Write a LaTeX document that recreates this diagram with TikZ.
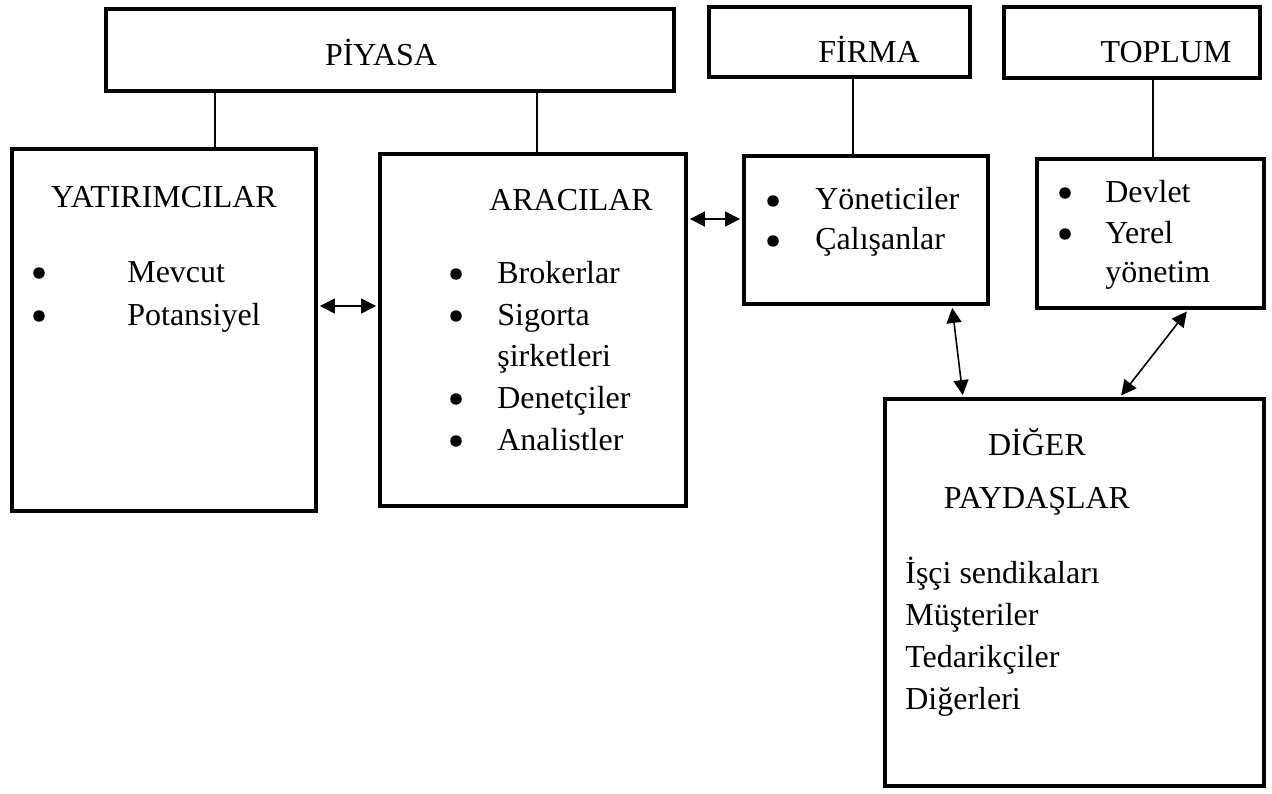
\documentclass[tikz,border=0pt]{standalone}
\usepackage{fontspec}
\setmainfont{Liberation Serif}
\newfontfamily\tnr{Liberation Serif}
\usetikzlibrary{fit, arrows.meta}

\tikzset{
	box/.style={draw, line width=2.3pt, inner sep=0pt},
	lbl/.style={inner sep=0pt, anchor=base, font=\tnr\fontsize{18.2}{21}\selectfont},
	item/.style={lbl, anchor=base west},
	dot/.style={circle, fill, inner sep=0pt, minimum size=0.23cm},
	link/.style={line width=1pt},
	biarrow/.style={line width=0.9pt, {Triangle[length=3mm,width=3mm]}-{Triangle[length=3mm,width=3mm]}, shorten <=1.1pt, shorten >=1.1pt},
}

\begin{document}
\begin{tikzpicture}[x=0.02cm, y=-0.02cm]
		\useasboundingbox (0,0) rectangle (1272,794);
		
		\node[box, fit={(106,9) (674,91)}] (piyasa) {};
		\node[box, fit={(709,7) (970,77)}] (firma) {};
		\node[box, fit={(1004,7) (1260,78)}] (toplum) {};
		\node[box, fit={(12,149) (316,511)}] (yat) {};
		\node[box, fit={(380,154) (686,506)}] (aracilar) {};
		\node[box, fit={(744,156) (988,304)}] (yonetici) {};
		\node[box, fit={(1037,159) (1264,308)}] (devlet) {};
		\node[box, fit={(885,399) (1264,786)}] (diger) {};
		
		\node[lbl] (piyasaT) at (381,66) {PİYASA};
		\node[lbl] (firmaT) at (869,63) {FİRMA};
		\node[lbl] (toplumT) at (1166,63) {TOPLUM};
		\node[lbl] (yatT) at (164,208) {YATIRIMCILAR};
		\node[lbl] (aracilarT) at (571,211) {ARACILAR};
		\node[lbl] (digerT1) at (1037,455) {DİĞER};
		\node[lbl] (digerT2) at (1037,508) {PAYDAŞLAR};
		
		\node[dot] (yd1) at (39,273) {};
		\node[item] (yi1) at (127,282) {Mevcut};
		\node[dot] (yd2) at (39,316) {};
		\node[item] (yi2) at (127,325) {Potansiyel};
		
		\node[dot] (ad1) at (456,274) {};
		\node[item] (ai1) at (497,283) {Brokerlar};
		\node[dot] (ad2) at (456,316) {};
		\node[item] (ai2) at (497,325) {Sigorta};
		\node[item] (ai3) at (497,366) {şirketleri};
		\node[dot] (ad4) at (456,399) {};
		\node[item] (ai4) at (497,408) {Denetçiler};
		\node[dot] (ad5) at (456,441) {};
		\node[item] (ai5) at (497,450) {Analistler};
		
		\node[dot] (fd1) at (773,201) {};
		\node[item] (fi1) at (815,210) {Yöneticiler};
		\node[dot] (fd2) at (773,241) {};
		\node[item] (fi2) at (815,250) {Çalışanlar};
		
		\node[dot] (td1) at (1065,193) {};
		\node[item] (ti1) at (1105,202) {Devlet};
		\node[dot] (td2) at (1065,234) {};
		\node[item] (ti2) at (1105,243) {Yerel};
		\node[item] (ti3) at (1105,282) {yönetim};
		
		\node[item] (di1) at (905,583) {İşçi sendikaları};
		\node[item] (di2) at (905,625) {Müşteriler};
		\node[item] (di3) at (905,667) {Tedarikçiler};
		\node[item] (di4) at (905,709) {Diğerleri};
		
		\coordinate (c1) at (215,0);
		\coordinate (c2) at (537,0);
		\coordinate (c3) at (853,0);
		\coordinate (c4) at (1153,0);
		\coordinate (e1) at (952,0);
		\coordinate (e2) at (963,0);
		\coordinate (e3) at (1188,0);
		\coordinate (e4) at (1120,0);
		\coordinate (h1) at (0,306);
		\coordinate (h2) at (0,219);
		
		\draw[link] (piyasa.south -| c1) -- (yat.north -| c1);
		\draw[link] (piyasa.south -| c2) -- (aracilar.north -| c2);
		\draw[link] (firma.south -| c3) -- (yonetici.north -| c3);
		\draw[link] (toplum.south -| c4) -- (devlet.north -| c4);
		
		\draw[biarrow] (yat.east |- h1) -- (aracilar.west |- h1);
		\draw[biarrow] (aracilar.east |- h2) -- (yonetici.west |- h2);
		\draw[biarrow] (yonetici.south -| e1) -- (diger.north -| e2);
		\draw[biarrow] (devlet.south -| e3) -- (diger.north -| e4);
		
\end{tikzpicture}
\end{document}
